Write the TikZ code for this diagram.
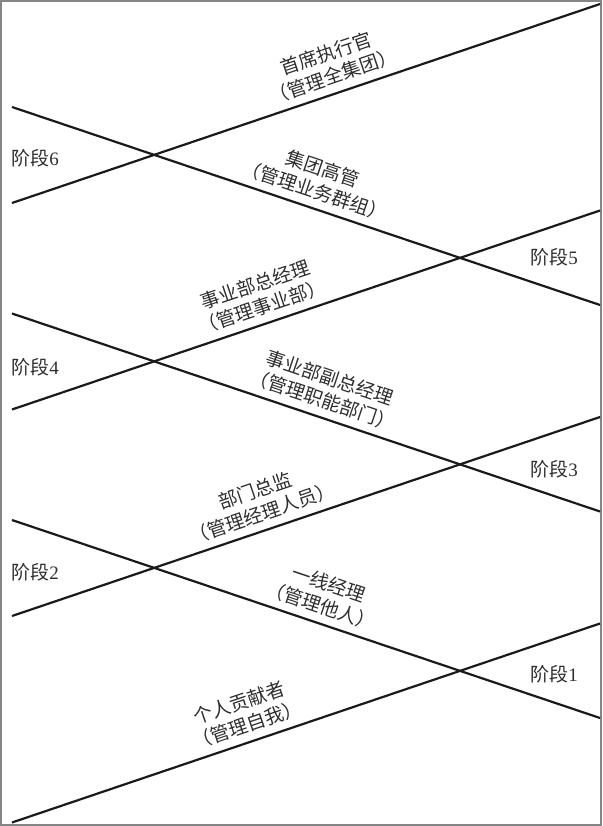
\documentclass[tikz,border=0pt]{standalone}
\usepackage{fontspec}
\setmainfont{Liberation Serif}
\newfontfamily\cjk{Noto Sans CJK SC}
\usepackage{tikz}
\usetikzlibrary{positioning}
\definecolor{ink1}{HTML}{1A1A1A}
\definecolor{text1}{HTML}{2E2E2E}
\definecolor{frame1}{HTML}{858585}

\begin{document}
\begin{tikzpicture}[
    x=1pt, y=-1pt,
    ridge/.style={ink1, line width=2.2pt},
    role/.style={sloped, above=5pt, align=center, inner sep=2pt,
                 font=\cjk\fontsize{19}{23.5}\selectfont, text=text1},
    stage/.style={font=\fontsize{19}{23}\selectfont, text=text1,
                  inner sep=1pt},
]

% ── frame ──
\useasboundingbox (0,0) rectangle (602,826);
\draw[frame1, line width=1.6pt] (0.8,0.8) rectangle (601.2,825.2);

% ── end points ──
\coordinate (up1l) at (12,203);   \coordinate (up1r) at (600,4);
\coordinate (up2l) at (12,409.5); \coordinate (up2r) at (600,210.5);
\coordinate (up3l) at (12,616);   \coordinate (up3r) at (600,417);
\coordinate (up4l) at (12,822.5); \coordinate (up4r) at (600,623.5);
\coordinate (dn1l) at (12,107);   \coordinate (dn1r) at (600,305);
\coordinate (dn2l) at (12,313.5); \coordinate (dn2r) at (600,511.5);
\coordinate (dn3l) at (12,520);   \coordinate (dn3r) at (600,718);

% ── rising lines ──
\draw[ridge] (up1l) -- (up1r)
    node[role, pos=0.556] (ceo) {首席执行官\\（管理全集团）};
\draw[ridge] (up2l) -- (up2r)
    node[role, pos=0.435] (divgm) {事业部总经理\\（管理事业部）};
\draw[ridge] (up3l) -- (up3r)
    node[role, pos=0.435] (dirct) {部门总监\\（管理经理人员）};
\draw[ridge] (up4l) -- (up4r)
    node[role, pos=0.409] (indiv) {个人贡献者\\（管理自我）};

% ── falling lines ──
\draw[ridge] (dn1l) -- (dn1r)
    node[role, pos=0.506] (grpex) {集团高管\\（管理业务群组）};
\draw[ridge] (dn2l) -- (dn2r)
    node[role, pos=0.519] (divvp) {事业部副总经理\\（管理职能部门）};
\draw[ridge] (dn3l) -- (dn3r)
    node[role, pos=0.516] (frontm) {一线经理\\（管理他人）};

% ── stages ──
\node[stage] (st6) at (35,158) {{\cjk 阶段}6};
\node[stage] (st5) at (554,257) {{\cjk 阶段}5};
\node[stage] (st4) at (35,367) {{\cjk 阶段}4};
\node[stage] (st3) at (554,469) {{\cjk 阶段}3};
\node[stage] (st2) at (35,572) {{\cjk 阶段}2};
\node[stage] (st1) at (554,674) {{\cjk 阶段}1};

\end{tikzpicture}
\end{document}
